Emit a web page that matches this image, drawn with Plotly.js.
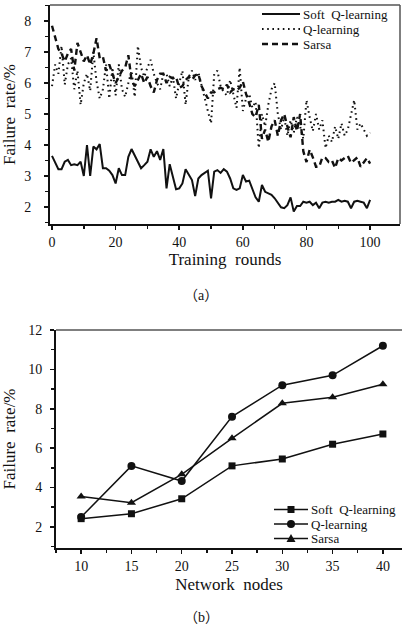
<!DOCTYPE html>
<html>
<head>
<meta charset="utf-8">
<script src="https://cdn.plot.ly/plotly-3.0.1.min.js"></script>
<style>html,body{margin:0;padding:0;background:#fff}#chart{width:402px;height:632px}</style>
</head>
<body>
<div id="chart"></div>
<script>
// ---- Data: panel (a) ----
const rounds = Array.from({length: 101}, (_, i) => i);
const softQA = [3.65,3.41,3.22,3.22,3.46,3.52,3.35,3.38,3.35,3.46,3.0,4.0,3.0,3.95,3.86,4.03,3.25,3.25,3.17,3.03,
  2.76,3.25,3.03,3.03,3.62,3.87,3.65,3.46,3.25,3.35,3.46,3.86,3.62,3.8,3.52,3.87,2.6,3.38,2.98,2.57,
  2.6,2.76,3.22,3.03,2.87,2.35,2.92,3.03,3.1,3.17,2.28,3.14,3.19,3.1,3.22,3.14,2.92,2.6,2.55,2.6,
  3.03,2.82,2.85,2.55,2.31,2.17,2.71,2.49,2.44,2.39,2.28,2.14,1.99,1.96,2.06,2.31,1.85,2.03,2.03,2.17,
  2.14,2.17,2.06,2.14,1.96,2.14,2.17,2.14,2.17,2.17,2.23,2.17,2.2,2.17,1.96,2.17,2.2,2.17,2.14,1.96,2.23];
const qLearnA = [5.9,6.6,6.3,7.2,5.95,6.6,6.8,5.8,6.4,5.3,6.0,6.3,5.75,7.0,6.05,5.5,5.8,6.6,5.5,6.5,
  5.6,6.6,5.8,5.55,6.0,6.4,5.55,7.2,6.5,6.2,6.5,6.75,6.3,6.0,5.8,6.3,6.3,5.9,6.2,5.5,
  6.0,6.4,5.3,6.2,6.4,6.1,6.35,5.9,5.55,5.1,4.7,6.3,6.4,5.9,5.7,5.6,6.1,5.6,5.2,6.5,
  5.1,5.5,5.65,5.2,5.4,3.9,5.0,4.6,5.3,5.8,6.0,5.0,4.5,4.9,4.3,4.8,4.4,4.9,4.6,4.2,
  5.45,4.9,4.45,5.0,4.5,4.8,3.9,4.3,4.1,4.6,4.2,4.7,4.3,4.5,5.0,5.45,4.5,4.7,4.5,4.3,4.4];
const sarsaA = [7.85,7.5,7.1,6.95,6.7,6.95,7.1,6.4,7.3,7.0,6.7,6.9,6.6,6.95,7.45,6.8,6.85,6.4,6.6,6.3,
  6.0,6.2,6.4,6.5,6.9,6.1,5.9,6.1,6.3,6.0,6.2,5.9,5.7,6.1,6.3,6.3,6.0,6.2,6.15,6.2,
  5.85,5.9,6.1,6.2,6.1,6.25,6.3,5.9,5.7,5.5,5.7,5.7,5.8,5.85,5.8,5.95,5.7,5.8,5.75,5.85,
  6.05,5.65,5.35,5.0,4.9,5.3,4.2,4.5,4.1,4.6,4.8,4.3,4.8,5.0,4.6,4.25,4.9,4.45,5.0,3.8,
  3.45,3.85,3.6,3.3,3.3,3.6,3.58,3.45,3.5,3.26,3.58,3.5,3.58,3.65,3.42,3.5,3.6,3.3,3.45,3.58,3.4];

// ---- Data: panel (b) ----
const nodes = [10, 15, 20, 25, 30, 35, 40];
const softQB = [2.42, 2.67, 3.43, 5.1, 5.45, 6.2, 6.72];
const qLearnB = [2.5, 5.1, 4.33, 7.6, 9.2, 9.7, 11.2];
const sarsaB = [3.54, 3.23, 4.67, 6.5, 8.28, 8.58, 9.24];

const seriesNames = ['Soft  Q-learning', 'Q-learning', 'Sarsa'];
const captions = ['（a）', '（b）'];
const ink = '#111111';
const serif = 'Liberation Serif, Times New Roman, serif';
const capFamily = 'Liberation Serif, Noto Sans CJK SC, serif';
const W = 402, H = 632;
const px = v => v / W;
const py = v => 1 - v / H;

const styleA = [
  {color: ink, width: 2, dash: 'solid'},
  {color: ink, width: 2, dash: '1.6px,3.6px'},
  {color: ink, width: 2.4, dash: '6px,4px'}
];
const symbolsB = ['square', 'circle', 'triangle-up'];

const traces = [
  {x: rounds, y: softQA, name: seriesNames[0], mode: 'lines', line: styleA[0], xaxis: 'x', yaxis: 'y'},
  {x: rounds, y: qLearnA, name: seriesNames[1], mode: 'lines', line: styleA[1], xaxis: 'x', yaxis: 'y'},
  {x: rounds, y: sarsaA, name: seriesNames[2], mode: 'lines', line: styleA[2], xaxis: 'x', yaxis: 'y'},
  {x: nodes, y: softQB, name: seriesNames[0], mode: 'lines+markers', line: {color: ink, width: 1.5}, marker: {symbol: symbolsB[0], size: 7, color: ink}, xaxis: 'x2', yaxis: 'y2'},
  {x: nodes, y: qLearnB, name: seriesNames[1], mode: 'lines+markers', line: {color: ink, width: 1.5}, marker: {symbol: symbolsB[1], size: 8, color: ink}, xaxis: 'x2', yaxis: 'y2'},
  {x: nodes, y: sarsaB, name: seriesNames[2], mode: 'lines+markers', line: {color: ink, width: 1.5}, marker: {symbol: symbolsB[2], size: 8, color: ink}, xaxis: 'x2', yaxis: 'y2'}
];

const tickFont = {family: serif, size: 14, color: ink};
const titleFont = {family: serif, size: 17, color: ink};
const legFont = {family: serif, size: 13, color: ink};

const shapes = [
  {type: 'line', xref: 'paper', yref: 'paper', x0: px(50), x1: px(400), y0: py(5), y1: py(5), line: {color: '#555', width: 1.5}},
  {type: 'line', xref: 'paper', yref: 'paper', x0: px(400), x1: px(400), y0: py(5), y1: py(224), line: {color: '#555', width: 1.5}},
  {type: 'line', xref: 'paper', yref: 'paper', x0: px(56), x1: 1, y0: py(330), y1: py(330), line: {color: '#555', width: 1.5}}
];
const annotations = [
  {text: captions[0], xref: 'paper', yref: 'paper', x: px(201), y: py(295), xanchor: 'center', yanchor: 'middle', showarrow: false, font: {family: capFamily, size: 14, color: ink}},
  {text: captions[1], xref: 'paper', yref: 'paper', x: px(201), y: py(617), xanchor: 'center', yanchor: 'middle', showarrow: false, font: {family: capFamily, size: 14, color: ink}}
];
// custom legends with compact row spacing as in the reference
const legA_y = [14, 29, 44];
seriesNames.forEach((n, i) => {
  shapes.push({type: 'line', xref: 'paper', yref: 'paper', x0: px(262), x1: px(300), y0: py(legA_y[i]), y1: py(legA_y[i]), line: styleA[i]});
  annotations.push({text: n, xref: 'paper', yref: 'paper', x: px(302), y: py(legA_y[i]), xanchor: 'left', yanchor: 'middle', showarrow: false, borderpad: 0, font: legFont});
});
const legB_y = [509.5, 524, 538.5];
seriesNames.forEach((n, i) => {
  const y = legB_y[i];
  shapes.push({type: 'line', xref: 'paper', yref: 'paper', x0: px(274), x1: px(308), y0: py(y), y1: py(y), line: {color: ink, width: 1.5}});
  const cx = 291;
  if (symbolsB[i] === 'square') {
    shapes.push({type: 'rect', xref: 'paper', yref: 'paper', x0: px(cx - 3.5), x1: px(cx + 3.5), y0: py(y + 3.5), y1: py(y - 3.5), fillcolor: ink, line: {width: 0}});
  } else if (symbolsB[i] === 'circle') {
    shapes.push({type: 'circle', xref: 'paper', yref: 'paper', x0: px(cx - 4), x1: px(cx + 4), y0: py(y + 4), y1: py(y - 4), fillcolor: ink, line: {width: 0}});
  } else {
    shapes.push({type: 'path', xref: 'paper', yref: 'paper', path: `M ${px(cx - 4.5)} ${py(y + 3.5)} L ${px(cx + 4.5)} ${py(y + 3.5)} L ${px(cx)} ${py(y - 4.5)} Z`, fillcolor: ink, line: {width: 0}});
  }
  annotations.push({text: n, xref: 'paper', yref: 'paper', x: px(310), y: py(y), xanchor: 'left', yanchor: 'middle', showarrow: false, borderpad: 0, font: legFont});
});

const layout = {
  width: W, height: H,
  margin: {l: 0, r: 0, t: 0, b: 0},
  paper_bgcolor: '#fff', plot_bgcolor: '#fff',
  showlegend: false,
  xaxis: {
    domain: [px(50), px(400)], anchor: 'y', range: [-0.63, 109.4],
    tickvals: [0, 20, 40, 60, 80, 100], ticks: 'outside', ticklen: 4, tickwidth: 1.5, tickcolor: ink,
    minor: {dtick: 10, tick0: 0, ticks: 'outside', ticklen: 3, tickcolor: ink},
    showgrid: false, zeroline: false, showline: true, linecolor: ink, linewidth: 2,
    tickfont: tickFont, title: {text: 'Training  rounds', font: titleFont, standoff: 3}
  },
  yaxis: {
    domain: [py(224), py(5)], anchor: 'x', range: [1.45, 8.52],
    tickvals: [2, 3, 4, 5, 6, 7, 8], ticks: 'outside', ticklen: 4, tickwidth: 1.5, tickcolor: ink,
    minor: {dtick: 0.5, tick0: 0, ticks: 'outside', ticklen: 3, tickcolor: ink},
    showgrid: false, zeroline: false, showline: true, linecolor: ink, linewidth: 2,
    ticklabelstandoff: 10,
    tickfont: tickFont, title: {text: 'Failure  rate/%', font: titleFont, standoff: 5}
  },
  xaxis2: {
    domain: [px(56), 1], anchor: 'y2', range: [7.5, 41.9],
    tickvals: [10, 15, 20, 25, 30, 35, 40], ticks: 'outside', ticklen: 4, tickwidth: 1.5, tickcolor: ink,
    minor: {dtick: 2.5, tick0: 0, ticks: 'outside', ticklen: 3, tickcolor: ink},
    showgrid: false, zeroline: false, showline: true, linecolor: ink, linewidth: 2,
    tickfont: tickFont, title: {text: 'Network  nodes', font: titleFont, standoff: 5}
  },
  yaxis2: {
    domain: [py(548), py(330)], anchor: 'x2', range: [0.93, 12],
    tickvals: [2, 4, 6, 8, 10, 12], ticks: 'outside', ticklen: 4, tickwidth: 1.5, tickcolor: ink,
    minor: {dtick: 1, tick0: 0, ticks: 'outside', ticklen: 3, tickcolor: ink},
    showgrid: false, zeroline: false, showline: true, linecolor: ink, linewidth: 2,
    ticklabelstandoff: 5,
    tickfont: tickFont, title: {text: 'Failure  rate/%', font: titleFont, standoff: 8}
  },
  shapes: shapes,
  annotations: annotations
};

Plotly.newPlot('chart', traces, layout, {displayModeBar: false, staticPlot: true});
</script>
</body>
</html>
